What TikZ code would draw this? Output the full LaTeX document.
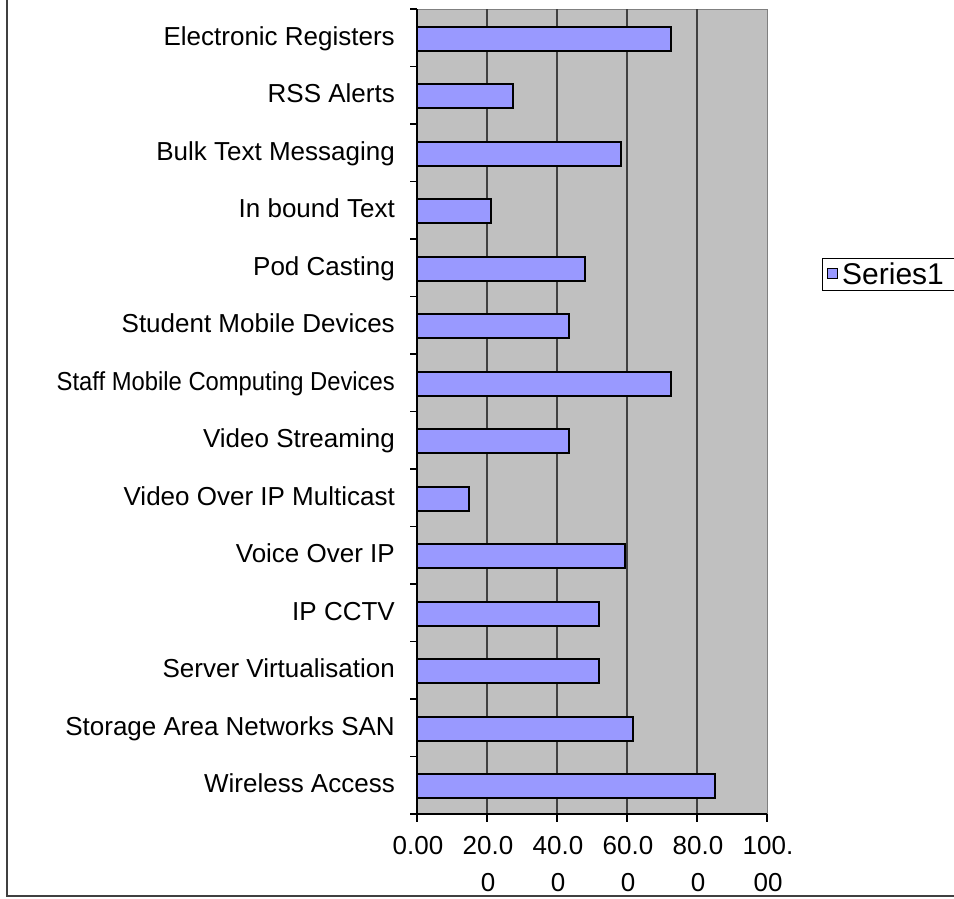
\documentclass[tikz,border=0pt]{standalone}
\usepackage{fontspec}
\usepackage{graphicx}
\setmainfont{Liberation Sans}
\definecolor{plotgray}{HTML}{C0C0C0}
\definecolor{barblue}{HTML}{9999FF}
\definecolor{framegray}{HTML}{404040}
\tikzset{
	catlabel/.style={anchor=base east, inner sep=0pt, font=\fontsize{26}{30}\selectfont},
	ticklabel/.style={anchor=north, inner sep=0pt, align=center, font=\fontsize{26}{37}\selectfont},
	bar/.style={draw=black, line width=2pt, fill=barblue},
	gridline/.style={draw=framegray, line width=1.5pt},
}
\begin{document}
\begin{tikzpicture}[x=1pt,y=-1pt]
		\useasboundingbox (0,0) rectangle (954,898);
		\draw [framegray, line width=2pt] (7,-5) -- (7,896) -- (960,896);
		
		% plot area
		\fill [plotgray] (417,9) rectangle (767,814);
		\draw [gray, line width=1pt] (417,9) -- (767,9) -- (767,814);
		\foreach \g in {20,40,60,80} \draw [gridline] (417+3.5*\g,9) -- (417+3.5*\g,814);
		
		\foreach \v/\lab [count=\i] in {72.6/Electronic Registers, 27.5/RSS Alerts, 58.3/Bulk Text Messaging, 21.1/In bound Text, 48.1/Pod Casting, 43.5/Student Mobile Devices, 72.6/\scalebox{0.915}[1]{Staff Mobile Computing Devices}, 43.5/Video Streaming, 14.8/Video Over IP Multicast, 59.5/Voice Over IP, 52.0/IP CCTV, 52.0/Server Virtualisation, 61.7/Storage Area Networks SAN, 85.2/Wireless Access} {
			\pgfmathsetmacro{\c}{-18.75+57.5*\i}
			\draw [bar] (417,\c-12) rectangle (417+3.5*\v,\c+12);
			\node [catlabel] (cat\i) at (395,\c+6.5) {\lab};
		}
		
		% axes
		\draw [black, line width=1.5pt] (417,9) -- (417,814) -- (767,814);
		\foreach \k in {0,...,14} \draw [black, line width=1.2pt] (410,9+57.5*\k) -- (417,9+57.5*\k);
		\foreach \t/\txt [count=\j] in {0/0.00, 20/20.0\\0, 40/40.0\\0, 60/60.0\\0, 80/80.0\\0, 100/100.\\00} {
			\draw [black, line width=1.2pt] (417+3.5*\t,814) -- (417+3.5*\t,822);
			\node [ticklabel] (tick\j) at (418+3.5*\t,836) {\txt};
		}
		
		% legend
		\draw [black, line width=1pt] (822,258) rectangle (960,290);
		\draw [black, line width=1pt, fill=barblue] (827,268) rectangle (837,278);
		\node [anchor=base west, inner sep=0pt, font=\fontsize{30}{34}\selectfont] (series) at (842,284) {Series1};
		\end{tikzpicture}
\end{document}
